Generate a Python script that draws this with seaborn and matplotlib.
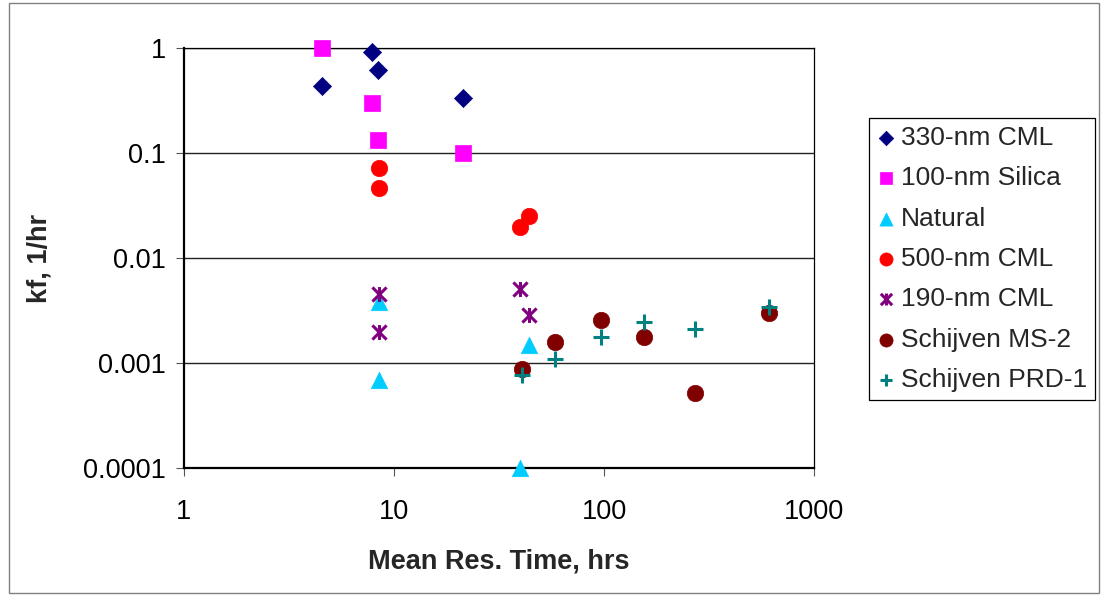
import numpy as np
import pandas as pd
import matplotlib
matplotlib.use("Agg")
import matplotlib.pyplot as plt
import seaborn as sns
from matplotlib.path import Path
from matplotlib.patches import Rectangle

# ---- data ----
cml330_x = [4.52, 7.86, 8.4, 21.3]
cml330_y = [0.436, 0.92, 0.617, 0.334]
silica_x = [4.52, 7.85, 8.4, 21.2]
silica_y = [1.0, 0.30, 0.134, 0.10]
natural_x = [8.48, 8.48, 43.9, 39.9]
natural_y = [0.00386, 0.00069, 0.0015, 0.0001]
cml500_x = [8.48, 8.48, 39.9, 43.9]
cml500_y = [0.0724, 0.0466, 0.020, 0.0251]
cml190_x = [8.48, 8.48, 39.9, 43.9]
cml190_y = [0.0046, 0.00199, 0.0051, 0.0029]
ms2_x = [40.8, 58.4, 96.8, 155.5, 270, 608]
ms2_y = [0.00088, 0.0016, 0.0026, 0.00179, 0.00052, 0.00303]
prd1_x = [40.8, 58.4, 96.8, 155.5, 270, 608]
prd1_y = [0.00077, 0.00109, 0.00179, 0.00249, 0.0021, 0.0034]

x_ticks = [1, 10, 100, 1000]
x_ticklabels = ["1", "10", "100", "1000"]
y_ticks = [0.0001, 0.001, 0.01, 0.1, 1]
y_ticklabels = ["0.0001", "0.001", "0.01", "0.1", "1"]

sns.set_theme(style="white")
plt.rcParams["font.family"] = ["Liberation Sans", "DejaVu Sans"]

fig = plt.figure(figsize=(11.03, 5.96), dpi=100)
ax = fig.add_axes([184 / 1103, 1 - 468.3 / 596, (814 - 184) / 1103, (468.3 - 48.3) / 596])

# asterisk marker: X plus vertical bar
ast_verts = [(-1, -1), (1, 1), (-1, 1), (1, -1), (0, -1.05), (0, 1.05)]
ast_codes = [Path.MOVETO, Path.LINETO] * 3
asterisk = Path(ast_verts, ast_codes)

series = [
    ("330-nm CML", cml330_x, cml330_y, "#000080", "D", 85, True),
    ("100-nm Silica", silica_x, silica_y, "#FF00FF", "s", 125, True),
    ("Natural", natural_x, natural_y, "#00CCFF", "^", 140, True),
    ("500-nm CML", cml500_x, cml500_y, "#FF0000", "o", 140, True),
    ("190-nm CML", cml190_x, cml190_y, "#800080", asterisk, 115, False),
    ("Schijven MS-2", ms2_x, ms2_y, "#800000", "o", 140, True),
    ("Schijven PRD-1", prd1_x, prd1_y, "#008080", "+", 130, False),
]

for name, xs, ys, col, mk, sz, filled in series:
    df = pd.DataFrame({"x": xs, "y": ys})
    lw = 0.5 if filled else 2.2
    sns.scatterplot(data=df, x="x", y="y", ax=ax, marker=mk, s=sz,
                    color=col, edgecolor=col, linewidth=lw, label=name,
                    zorder=4, clip_on=False)

ax.set_xscale("log")
ax.set_yscale("log")
ax.set_xlim(1, 1000)
ax.set_ylim(0.0001, 1)
ax.set_xticks(x_ticks)
ax.set_xticklabels(x_ticklabels)
ax.set_yticks(y_ticks)
ax.set_yticklabels(y_ticklabels)
ax.minorticks_off()

ax.yaxis.grid(True, color="#222222", linewidth=1.0)
ax.xaxis.grid(False)
ax.set_axisbelow(True)

for side in ["left", "bottom"]:
    ax.spines[side].set_color("black")
    ax.spines[side].set_linewidth(1.6)
for side in ["top", "right"]:
    ax.spines[side].set_color("black")
    ax.spines[side].set_linewidth(0.9)

ax.tick_params(axis="both", which="major", direction="out", length=6,
               width=0.8, color="#555555", labelsize=19.5, labelcolor="black",
               bottom=True, left=True)
ax.tick_params(axis="x", pad=16)
ax.tick_params(axis="y", pad=7)

ax.set_xlabel("Mean Res. Time, hrs", fontsize=19.5, fontweight="bold", labelpad=17)
ax.set_ylabel("kf, 1/hr", fontsize=19.5, fontweight="bold", labelpad=22)

leg = ax.legend(loc="upper left", bbox_to_anchor=(869 / 1103, 1 - 118 / 596),
                bbox_transform=fig.transFigure, borderaxespad=0,
                fontsize=19, frameon=True, fancybox=False, framealpha=1,
                edgecolor="black", facecolor="white", markerscale=0.8,
                handlelength=0.7, handletextpad=0.2, labelspacing=0.62,
                borderpad=0.3)
leg.get_frame().set_linewidth(0.9)

fig.patches.append(Rectangle((9 / 1103, 3 / 596), (1099 - 9) / 1103, (593 - 3) / 596,
                             transform=fig.transFigure, fill=False,
                             edgecolor="#808080", linewidth=1.0))

fig.savefig("out.png", dpi=100)
